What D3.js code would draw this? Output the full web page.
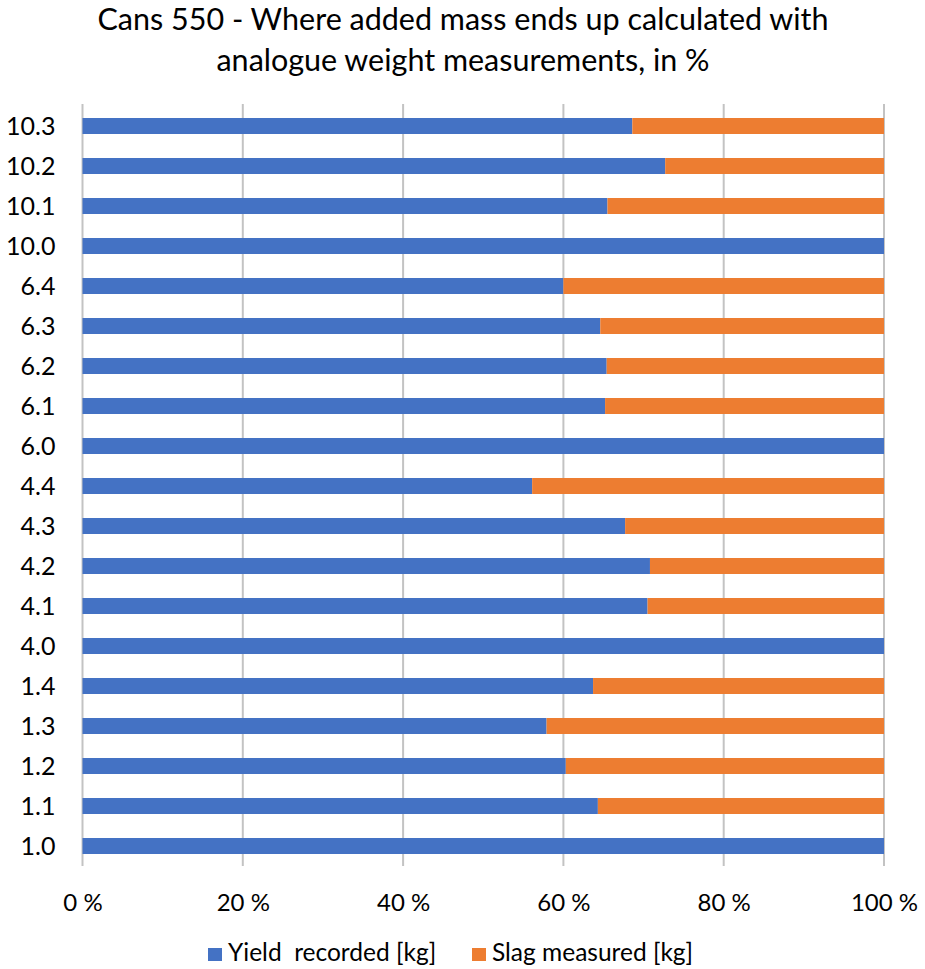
<!DOCTYPE html>
<html><head><meta charset="utf-8">
<script src="https://cdn.jsdelivr.net/npm/d3@7"></script>
<style>body{margin:0;background:#fff;} svg text{font-family:Lato,"Open Sans",sans-serif;fill:#000;white-space:pre;}</style>
</head><body>
<svg id="c" width="925" height="969"></svg>
<script>
const categories = ["10.3","10.2","10.1","10.0","6.4","6.3","6.2","6.1","6.0","4.4","4.3","4.2","4.1","4.0","1.4","1.3","1.2","1.1","1.0"];
const yieldPct = [68.6,72.7,65.5,100,60.0,64.6,65.4,65.2,100,56.1,67.7,70.8,70.5,100,63.7,57.9,60.3,64.3,100];
const slagPct = yieldPct.map(v => 100 - v);
const seriesNames = ["Yield  recorded [kg]","Slag measured [kg]"];
const xTicks = [0,20,40,60,80,100];
const titleLines = ["Cans 550 - Where added mass ends up calculated with","analogue weight measurements, in %"];
const colors = ["#4472C4","#ED7D31"];

const svg = d3.select("#c");
const pL = 82.5, pR = 884, pT = 106, pB = 866;
const x = d3.scaleLinear().domain([0,100]).range([pL,pR]);
const y = d3.scaleBand().domain(categories).range([pT,pB]).paddingInner(0.6).paddingOuter(0.3);

svg.append("g").selectAll("text").data(titleLines).join("text")
  .attr("x",463).attr("y",(d,i)=>30+i*40.5).attr("text-anchor","middle")
  .attr("font-size",30.5).text(d=>d);

// gridlines
svg.append("g").selectAll("line").data(xTicks).join("line")
  .attr("x1",d=>x(d)).attr("x2",d=>x(d)).attr("y1",pT-2).attr("y2",pB)
  .attr("stroke","#c3c3c3").attr("stroke-width",2);

const rows = categories.map((c,i)=>({c, y:yieldPct[i], s:slagPct[i]}));
const g = svg.append("g");
g.selectAll("rect.y").data(rows).join("rect").attr("class","y")
  .attr("x",x(0)).attr("y",d=>y(d.c)).attr("height",y.bandwidth())
  .attr("width",d=>x(d.y)-x(0)).attr("fill",colors[0]);
g.selectAll("rect.s").data(rows.filter(d=>d.s>0)).join("rect").attr("class","s")
  .attr("x",d=>x(d.y)).attr("y",d=>y(d.c)).attr("height",y.bandwidth())
  .attr("width",d=>x(100)-x(d.y)).attr("fill",colors[1]);

// y labels
const ya = svg.append("g").attr("transform",`translate(${pL-27},0)`)
  .call(d3.axisLeft(y).tickSize(0).tickPadding(0));
ya.select(".domain").remove();
ya.selectAll("text").attr("font-size",25).attr("dy","0.36em").style("font-family","Lato,'Open Sans',sans-serif");

// x labels
const xa = svg.append("g").attr("transform",`translate(0,${pB})`)
  .call(d3.axisBottom(x).tickValues(xTicks).tickSize(0).tickPadding(28).tickFormat(d=>d+" %"));
xa.select(".domain").remove();
xa.selectAll("text").attr("font-size",24).style("font-family","Lato,'Open Sans',sans-serif");

// legend
const leg = svg.append("g");
const lx = [208, 472];
seriesNames.forEach((n,i)=>{
  leg.append("rect").attr("x",lx[i]).attr("y",948).attr("width",14).attr("height",13).attr("fill",colors[i]);
  leg.append("text").attr("x",lx[i]+20).attr("y",961).attr("font-size",24.5).text(n);
});
</script>
</body></html>
